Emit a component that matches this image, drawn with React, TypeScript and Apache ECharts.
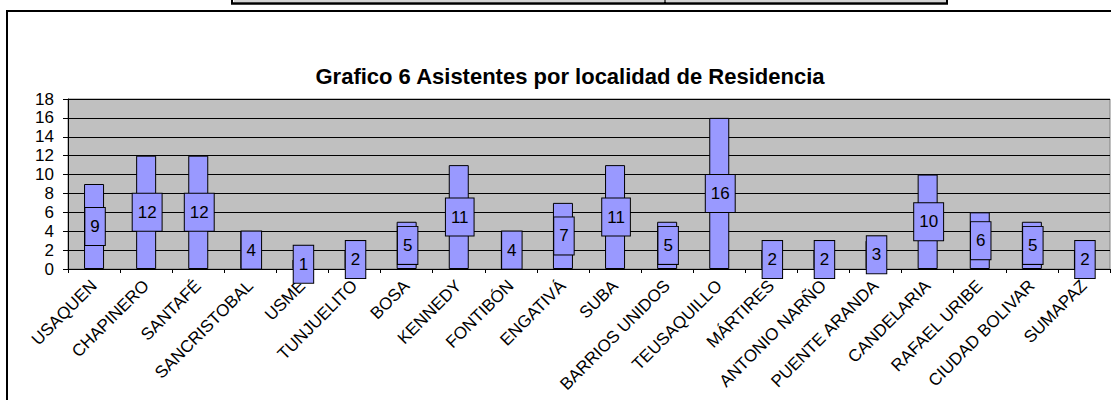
import React, { useEffect, useRef } from "react";
import * as echarts from "echarts";

const categories = [
  "USAQUEN", "CHAPINERO", "SANTAFÉ", "SANCRISTOBAL", "USME", "TUNJUELITO",
  "BOSA", "KENNEDY", "FONTIBÓN", "ENGATIVÁ", "SUBA", "BARRIOS UNIDOS",
  "TEUSAQUILLO", "MÁRTIRES", "ANTONIO NARÑO", "PUENTE ARANDA", "CANDELARIA",
  "RAFAEL URIBE", "CIUDAD BOLIVAR", "SUMAPAZ",
];
const asistentes = [9, 12, 12, 4, 1, 2, 5, 11, 4, 7, 11, 5, 16, 2, 2, 3, 10, 6, 5, 2];
const titleText = "Grafico 6 Asistentes por localidad de Residencia";
const yMin = 0;
const yMax = 18;
const yStep = 2;

const FONT = "'Liberation Sans', Arial, sans-serif";

export default function App() {
  const ref = useRef<HTMLDivElement>(null);
  useEffect(() => {
    if (!ref.current) return;
    const chart = echarts.init(ref.current, null, { renderer: "svg" });
    chart.setOption({
      animation: false,
      backgroundColor: "#ffffff",
      textStyle: { fontFamily: FONT },
      title: {
        text: titleText,
        left: 565,
        top: 60,
        textAlign: "center",
        textStyle: { fontFamily: FONT, fontSize: 22, fontWeight: "bold", color: "#000" },
      },
      graphic: [
        { type: "line", shape: { x1: 232, y1: 0, x2: 232, y2: 4 }, style: { stroke: "#000", lineWidth: 2 } },
        { type: "line", shape: { x1: 665, y1: 0, x2: 665, y2: 4 }, style: { stroke: "#000", lineWidth: 2 } },
        { type: "line", shape: { x1: 947, y1: 0, x2: 947, y2: 4 }, style: { stroke: "#000", lineWidth: 2 } },
        { type: "line", shape: { x1: 234, y1: 1, x2: 946, y2: 1 }, style: { stroke: "#aaa", lineWidth: 1 } },
        { type: "line", shape: { x1: 231, y1: 3.5, x2: 948, y2: 3.5 }, style: { stroke: "#000", lineWidth: 2.5 } },
        {
          type: "rect",
          shape: { x: 7, y: 11, width: 1200, height: 500 },
          style: { fill: "none", stroke: "#000", lineWidth: 2 },
          silent: true,
        },
      ],
      grid: {
        left: 68,
        right: 1,
        top: 99,
        bottom: 131,
        show: true,
        backgroundColor: "#C0C0C0",
        borderColor: "#808080",
        borderWidth: 1,
      },
      xAxis: {
        type: "category",
        data: categories,
        axisLine: { show: true, lineStyle: { color: "#000", width: 1 } },
        axisTick: { show: true, alignWithLabel: false, length: 4, lineStyle: { color: "#000" } },
        axisLabel: {
          interval: 0,
          rotate: 45,
          margin: 14,
          fontSize: 17,
          fontFamily: FONT,
          color: "#000",
        },
        splitLine: { show: false },
      },
      yAxis: {
        type: "value",
        min: yMin,
        max: yMax,
        interval: yStep,
        axisLine: { show: true, lineStyle: { color: "#000", width: 1 } },
        axisTick: { show: true, inside: false, length: 5, lineStyle: { color: "#000" } },
        axisLabel: { margin: 14, fontSize: 17, fontFamily: FONT, color: "#000" },
        splitLine: { show: true, lineStyle: { color: "#000", width: 1 } },
      },
      series: [
        {
          type: "bar",
          data: asistentes,
          barWidth: 20,
          itemStyle: { color: "#9999FF", borderColor: "#000", borderWidth: 1 },
          label: {
            show: true,
            position: "inside",
            offset: [1, 0],
            fontSize: 17,
            fontFamily: FONT,
            color: "#000",
            backgroundColor: "#9999FF",
            borderColor: "#000",
            borderWidth: 1,
            padding: [10, 5],
            lineHeight: 17,
          },
        },
      ],
    });
    return () => chart.dispose();
  }, []);
  return (
    <div
      ref={ref}
      style={{ position: "absolute", left: 0, top: 0, width: 1111, height: 400 }}
    />
  );
}
